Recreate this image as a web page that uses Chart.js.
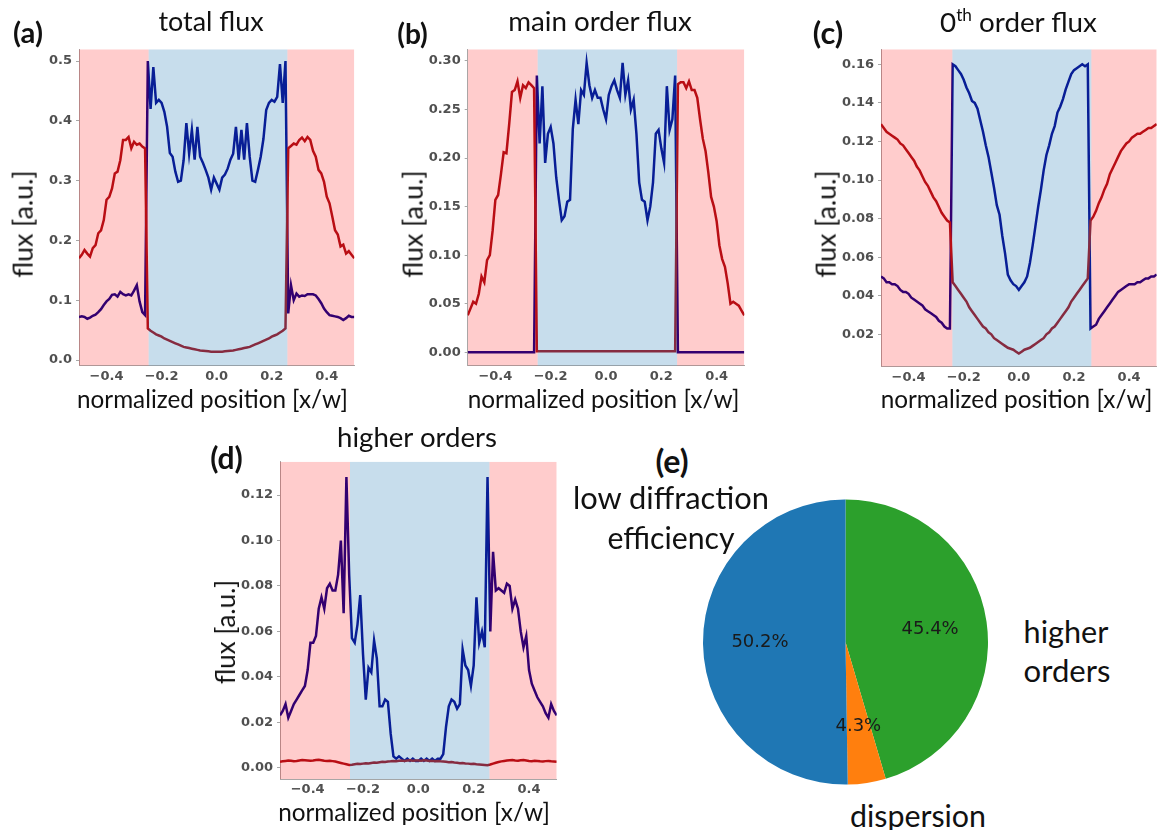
<!DOCTYPE html>
<html><head><meta charset="utf-8">
<script src="https://cdn.jsdelivr.net/npm/chart.js@4.4.1/dist/chart.umd.min.js"></script>
<style>
html,body{margin:0;padding:0;background:#fff;}
#fig{position:relative;width:1158px;height:830px;overflow:hidden;background:#fff;}
#fig canvas{position:absolute;}
.lbl{position:absolute;white-space:nowrap;font-family:Lato,'Open Sans',sans-serif;color:#111;line-height:1;transform:translate(-50%,-50%);}
.rot{transform:translate(-50%,-50%) rotate(-90deg);}
.bold{font-weight:bold;}
</style></head><body>
<div id="fig">
<canvas id="ca" width="360" height="350" style="left:0px;top:40px"></canvas>
<canvas id="cb" width="360" height="350" style="left:390px;top:40px"></canvas>
<canvas id="cc" width="358" height="350" style="left:800px;top:40px"></canvas>
<canvas id="cd" width="372" height="350" style="left:190px;top:450px"></canvas>
<canvas id="ce" width="291" height="290" style="left:700px;top:497px"></canvas>
</div>
<script>
// ---------------- data ----------------
const xs = [-0.50,-0.49,-0.48,-0.47,-0.46,-0.45,-0.44,-0.43,-0.42,-0.41,-0.40,-0.39,-0.38,-0.37,-0.36,-0.35,-0.34,-0.33,-0.32,-0.31,-0.30,-0.29,-0.28,-0.27,-0.26,-0.25,-0.24,-0.23,-0.22,-0.21,-0.20,-0.19,-0.18,-0.17,-0.16,-0.15,-0.14,-0.13,-0.12,-0.11,-0.10,-0.09,-0.08,-0.07,-0.06,-0.05,-0.04,-0.03,-0.02,-0.01,0.00,0.01,0.02,0.03,0.04,0.05,0.06,0.07,0.08,0.09,0.10,0.11,0.12,0.13,0.14,0.15,0.16,0.17,0.18,0.19,0.20,0.21,0.22,0.23,0.24,0.25,0.26,0.27,0.28,0.29,0.30,0.31,0.32,0.33,0.34,0.35,0.36,0.37,0.38,0.39,0.40,0.41,0.42,0.43,0.44,0.45,0.46,0.47,0.48,0.49,0.50];

// (a) total flux
const aRed = [0.170,0.176,0.184,0.178,0.173,0.187,0.192,0.212,0.217,0.234,0.268,0.273,0.287,0.312,0.315,0.334,0.368,0.368,0.373,0.354,0.365,0.360,0.362,0.357,0.354,
 0.053,0.049,0.046,0.043,0.041,0.039,0.036,0.034,0.032,0.030,0.028,0.026,0.024,0.022,0.021,0.020,0.019,0.018,0.017,0.016,0.0155,0.015,0.0145,0.014,0.014,
 0.014,
 0.014,0.014,0.0145,0.015,0.0155,0.016,0.017,0.018,0.019,0.020,0.021,0.022,0.024,0.026,0.028,0.030,0.032,0.034,0.036,0.039,0.041,0.043,0.046,0.049,0.053,
 0.354,0.358,0.362,0.360,0.368,0.372,0.366,0.373,0.368,0.350,0.340,0.318,0.312,0.298,0.273,0.262,0.240,0.217,0.210,0.190,0.193,0.178,0.182,0.176,0.170];
const aBlue = [0.072,0.073,0.072,0.069,0.071,0.074,0.076,0.080,0.085,0.092,0.098,0.102,0.109,0.110,0.106,0.114,0.110,0.108,0.110,0.108,0.116,0.125,0.098,0.080,0.075,
 0.500,0.420,0.490,0.430,0.435,0.430,0.415,0.390,0.346,0.340,0.315,0.298,0.300,0.334,0.396,0.345,0.385,0.335,0.390,0.340,0.330,0.318,0.305,0.285,0.305,
 0.295,
 0.285,0.305,0.310,0.320,0.335,0.345,0.390,0.335,0.385,0.335,0.396,0.340,0.300,0.298,0.318,0.340,0.370,0.418,0.430,0.435,0.432,0.440,0.495,0.430,0.500,
 0.078,0.125,0.100,0.111,0.106,0.108,0.107,0.110,0.110,0.110,0.108,0.102,0.095,0.086,0.080,0.075,0.074,0.073,0.072,0.070,0.067,0.070,0.074,0.072,0.072];

// (b) main order flux
const bRed = [0.038,0.045,0.052,0.050,0.060,0.078,0.072,0.095,0.100,0.125,0.157,0.162,0.183,0.206,0.205,0.235,0.268,0.270,0.279,0.262,0.275,0.272,0.278,0.275,0.272,
 0.001,0.001,0.001,0.001,0.001,0.001,0.001,0.001,0.001,0.001,0.001,0.001,0.001,0.001,0.001,0.001,0.001,0.001,0.001,0.001,0.001,0.001,0.001,0.001,0.001,
 0.001,
 0.001,0.001,0.001,0.001,0.001,0.001,0.001,0.001,0.001,0.001,0.001,0.001,0.001,0.001,0.001,0.001,0.001,0.001,0.001,0.001,0.001,0.001,0.001,0.001,0.001,
 0.276,0.278,0.278,0.272,0.279,0.270,0.270,0.262,0.240,0.220,0.207,0.185,0.160,0.150,0.135,0.110,0.096,0.088,0.071,0.050,0.052,0.050,0.048,0.043,0.038];
const bBlue = [0,0,0,0,0,0,0,0,0,0,0,0,0,0,0,0,0,0,0,0,0,0,0,0,0,
 0.285,0.215,0.274,0.195,0.225,0.232,0.215,0.180,0.157,0.136,0.140,0.155,0.157,0.230,0.260,0.235,0.270,0.265,0.298,0.275,0.262,0.270,0.262,0.262,0.250,
 0.240,
 0.265,0.274,0.280,0.270,0.262,0.298,0.265,0.280,0.250,0.260,0.225,0.175,0.157,0.155,0.136,0.150,0.175,0.225,0.229,0.210,0.195,0.274,0.229,0.240,0.285,
 0,0,0,0,0,0,0,0,0,0,0,0,0,0,0,0,0,0,0,0,0,0,0,0,0];

// (c) 0th order flux
const cRed = [0.129,0.127,0.125,0.124,0.123,0.122,0.121,0.119,0.118,0.116,0.114,0.112,0.110,0.107,0.105,0.102,0.099,0.097,0.094,0.091,0.089,0.086,0.083,0.081,0.079,
 0.078,0.047,0.045,0.043,0.041,0.039,0.037,0.034,0.032,0.030,0.028,0.026,0.024,0.023,0.021,0.020,0.018,0.017,0.016,0.015,0.014,0.013,0.0125,0.012,0.011,
 0.010,
 0.011,0.012,0.0125,0.013,0.014,0.015,0.016,0.017,0.018,0.020,0.021,0.023,0.024,0.026,0.028,0.030,0.032,0.034,0.037,0.039,0.041,0.043,0.045,0.047,0.049,
 0.079,0.081,0.084,0.088,0.091,0.095,0.098,0.103,0.106,0.109,0.112,0.115,0.117,0.119,0.120,0.122,0.123,0.124,0.124,0.125,0.126,0.127,0.127,0.128,0.129];
const cBlue = [0.050,0.049,0.047,0.047,0.046,0.046,0.045,0.043,0.042,0.042,0.041,0.039,0.038,0.037,0.036,0.035,0.033,0.032,0.031,0.030,0.029,0.027,0.026,0.024,0.023,
 0.023,0.160,0.159,0.157,0.155,0.152,0.148,0.145,0.141,0.140,0.137,0.131,0.125,0.118,0.112,0.104,0.096,0.087,0.082,0.071,0.062,0.051,0.048,0.046,0.045,
 0.043,
 0.045,0.047,0.050,0.057,0.066,0.076,0.086,0.095,0.105,0.113,0.118,0.124,0.128,0.135,0.138,0.142,0.147,0.151,0.155,0.157,0.158,0.159,0.160,0.159,0.160,
 0.023,0.024,0.025,0.028,0.030,0.032,0.034,0.036,0.038,0.040,0.042,0.043,0.044,0.045,0.046,0.046,0.046,0.047,0.047,0.048,0.049,0.049,0.050,0.050,0.051];

// (d) higher orders
const dRed = [0.0026,0.0028,0.0030,0.0032,0.0031,0.0029,0.0030,0.0032,0.0034,0.0033,0.0032,0.0031,0.0032,0.0034,0.0035,0.0033,0.0031,0.0030,0.0031,0.0029,0.0027,0.0024,0.0021,0.0018,0.0015,
 0.0012,0.0013,0.0015,0.0017,0.0016,0.0018,0.0020,0.0019,0.0021,0.0023,0.0022,0.0024,0.0026,0.0025,0.0027,0.0028,0.0030,0.0029,0.0031,0.0032,0.0030,0.0032,0.0033,0.0031,0.0032,
 0.0032,
 0.0031,0.0033,0.0032,0.0030,0.0031,0.0029,0.0030,0.0028,0.0027,0.0026,0.0024,0.0025,0.0023,0.0022,0.0020,0.0021,0.0019,0.0018,0.0016,0.0017,0.0015,0.0014,0.0013,0.0012,0.0011,
 0.0014,0.0018,0.0022,0.0025,0.0028,0.0030,0.0032,0.0033,0.0034,0.0032,0.0031,0.0033,0.0034,0.0032,0.0030,0.0029,0.0031,0.0030,0.0028,0.0027,0.0029,0.0030,0.0028,0.0027,0.0026];
const dBlue = [0.023,0.025,0.028,0.022,0.025,0.028,0.030,0.032,0.034,0.036,0.043,0.055,0.055,0.058,0.070,0.075,0.070,0.079,0.081,0.078,0.078,0.085,0.100,0.068,0.128,
 0.085,0.057,0.055,0.063,0.076,0.050,0.030,0.044,0.042,0.056,0.048,0.027,0.027,0.030,0.029,0.015,0.005,0.004,0.005,0.004,0.003,0.004,0.003,0.004,0.003,
 0.003,
 0.004,0.003,0.004,0.003,0.004,0.003,0.004,0.004,0.006,0.018,0.027,0.030,0.029,0.026,0.028,0.052,0.045,0.043,0.036,0.045,0.075,0.055,0.060,0.053,0.128,
 0.060,0.095,0.078,0.079,0.078,0.077,0.081,0.080,0.070,0.074,0.070,0.060,0.053,0.058,0.043,0.037,0.034,0.031,0.029,0.027,0.024,0.022,0.028,0.025,0.023];

// tick values
const xTicks = [-0.4,-0.2,0.0,0.2,0.4];
const aYTicks = [0.0,0.1,0.2,0.3,0.4,0.5];
const bYTicks = [0.00,0.05,0.10,0.15,0.20,0.25,0.30];
const cYTicks = [0.02,0.04,0.06,0.08,0.10,0.12,0.14,0.16];
const dYTicks = [0.00,0.02,0.04,0.06,0.08,0.10,0.12];

// grating region (blue band) boundaries per panel
const abdBand = [-0.247, 0.257];
const cBand = [-0.241, 0.263];

// (e) pie
const pieLabels = ['low diffraction efficiency','dispersion','higher orders'];
const pieValues = [50.2, 4.3, 45.4];
const pieColors = ['#1f77b4','#ff7f0e','#2ca02c'];

// ---------------- styling ----------------
const RED = 'rgb(168,18,26)';
const BLUE = 'rgb(0,0,140)';
const PINK = 'rgba(255,0,0,0.2)';
const LBLUE = 'rgba(31,119,180,0.25)';
const SPINE = '#a8a8a8';
const TICKFONT = {family:'DejaVu Sans', size:13, weight:'bold'};
const TICKCOL = '#505050';

function pts(ys){ return xs.map((x,i)=>({x:x, y:ys[i]})); }
function fmt(v,d){ const s=Math.abs(v).toFixed(d); return (v< -1e-9?'\u2212':'')+s; }

function makeShade(band){
  return {id:'shade', afterDatasetsDraw(chart){
    const ctx=chart.ctx, a=chart.chartArea, x=chart.scales.x;
    const regs=[[x.min,band[0],PINK],[band[0],band[1],LBLUE],[band[1],x.max,PINK]];
    ctx.save();
    ctx.beginPath(); ctx.rect(a.left,a.top,a.right-a.left,a.bottom-a.top); ctx.clip();
    regs.forEach(r=>{ const x0=x.getPixelForValue(r[0]), x1=x.getPixelForValue(r[1]);
      ctx.fillStyle=r[2]; ctx.fillRect(x0,a.top,x1-x0,a.bottom-a.top); });
    ctx.restore();
  }};
}

function lineChart(id, s){
  return new Chart(document.getElementById(id), {
    type:'line',
    data:{datasets:[
      {data:pts(s.red), borderColor:RED, borderWidth:2.5, pointRadius:0, tension:0, fill:false},
      {data:pts(s.blue), borderColor:BLUE, borderWidth:2.5, pointRadius:0, tension:0, fill:false}
    ]},
    options:{
      responsive:false, animation:false, devicePixelRatio:1, events:[],
      layout:{padding:{top:s.padTop, right:s.padRight, left:0, bottom:0}},
      plugins:{legend:{display:false}, tooltip:{enabled:false}, title:{display:false}},
      scales:{
        x:{type:'linear', min:-0.5, max:0.5,
          afterBuildTicks: sc=>{ sc.ticks = xTicks.map(v=>({value:v})); },
          afterFit: sc=>{ sc.height=s.xH; sc.paddingLeft=0; sc.paddingRight=0; },
          ticks:{callback:v=>fmt(v,1), font:TICKFONT, color:TICKCOL, padding:3, maxRotation:0, autoSkip:false},
          grid:{display:true, drawOnChartArea:false, drawTicks:false, color:SPINE},
          border:{display:true, color:SPINE, width:1}},
        y:{type:'linear', min:s.yMin, max:s.yMax,
          afterBuildTicks: sc=>{ sc.ticks = s.yTicks.map(v=>({value:v})); },
          afterFit: sc=>{ sc.width=s.yW; sc.paddingTop=0; sc.paddingBottom=0; },
          ticks:{callback:v=>fmt(v,s.yDec), font:TICKFONT, color:TICKCOL, padding:4, autoSkip:false},
          grid:{display:true, drawOnChartArea:false, drawTicks:true, tickLength:3, color:SPINE},
          border:{display:true, color:SPINE, width:1}}
      }
    },
    plugins:[makeShade(s.band)]
  });
}

lineChart('ca',{red:aRed, blue:aBlue, yMin:-0.0095, yMax:0.5196, yTicks:aYTicks, yDec:1, yW:79, padTop:9.3, padRight:5.7, xH:24.3, band:abdBand});
lineChart('cb',{red:bRed, blue:bBlue, yMin:-0.0138, yMax:0.312, yTicks:bYTicks, yDec:2, yW:77.7, padTop:9.3, padRight:5.7, xH:24.3, band:abdBand});
lineChart('cc',{red:cRed, blue:cBlue, yMin:0.0032, yMax:0.1678, yTicks:cYTicks, yDec:2, yW:81, padTop:9.3, padRight:1.3, xH:23.3, band:cBand});
lineChart('cd',{red:dRed, blue:dBlue, yMin:-0.0051, yMax:0.1347, yTicks:dYTicks, yDec:2, yW:90, padTop:11.7, padRight:5.3, xH:20.7, band:abdBand});

// pie (drawn clockwise from top: higher orders, dispersion, low diffraction efficiency)
const order = [2,1,0];
const pctPlugin = {id:'pct', afterDatasetsDraw(chart){
  const ctx=chart.ctx, meta=chart.getDatasetMeta(0);
  ctx.save(); ctx.font='18px "DejaVu Sans"'; ctx.fillStyle='#1a1a1a'; ctx.textAlign='center'; ctx.textBaseline='middle';
  meta.data.forEach((arc,i)=>{
    const p=arc.getProps(['startAngle','endAngle','outerRadius','x','y'],true);
    const a=(p.startAngle+p.endAngle)/2, r=p.outerRadius*0.6;
    ctx.fillText(pieValues[order[i]].toFixed(1)+'%', p.x+r*Math.cos(a), p.y+r*Math.sin(a));
  });
  ctx.restore();
}};
new Chart(document.getElementById('ce'), {
  type:'pie',
  data:{labels:order.map(i=>pieLabels[i]), datasets:[{data:order.map(i=>pieValues[i]), backgroundColor:order.map(i=>pieColors[i]), borderWidth:0}]},
  options:{responsive:false, animation:false, devicePixelRatio:1, events:[], radius:142.5,
    layout:{padding:0}, plugins:{legend:{display:false}, tooltip:{enabled:false}}},
  plugins:[pctPlugin]
});

// ---------------- text labels ----------------
const texts = [
  ['(a)',28,32,30,'bold'], ['total flux',211,21,105,''], ['flux [a.u.]',23,223.5,107,'rot'], ['normalized position [x/w]',212.5,399,271,''],
  ['(b)',412.5,33,31,'bold'], ['main order flux',600,21,184,''], ['flux [a.u.]',412.5,223.5,107,'rot'], ['normalized position [x/w]',603.5,399,272,''],
  ['(c)',828,33,30,'bold'], ['0<span style="font-size:0.62em;vertical-align:0.62em">th</span> order flux',1018.5,21,157,''], ['flux [a.u.]',826,223.5,107,'rot'], ['normalized position [x/w]',1016.5,399,272,''],
  ['(d)',226.5,457,33,'bold'], ['higher orders',417,437,160,''], ['flux [a.u.]',225,631.5,104,'rot'], ['normalized position [x/w]',414,812,272,''],
  ['(e)',672,461,33,'bold'], ['low diffraction',671,498,196,''], ['efficiency',671,537,127,''],
  ['higher',1066,632,85,''], ['orders',1067,671,87,''], ['dispersion',918,815,136,'']
];
const fig=document.getElementById('fig');
texts.forEach(t=>{
  const d=document.createElement('div');
  d.className='lbl'+(t[4]?' '+t[4]:'');
  d.innerHTML=t[0];
  d.style.left=t[1]+'px'; d.style.top=t[2]+'px';
  d.style.fontSize='40px';
  fig.appendChild(d);
  const w=d.offsetWidth || 1;
  d.style.fontSize=(40*t[3]/w).toFixed(2)+'px';
});
</script>
</body></html>
